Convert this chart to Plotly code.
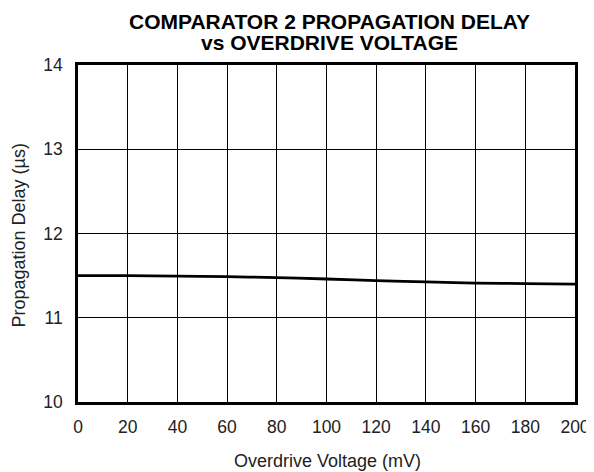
import plotly.graph_objects as go

overdrive_mv = [0, 20, 40, 60, 80, 100, 120, 140, 160, 180, 200]
delay_us = [11.50, 11.50, 11.495, 11.488, 11.476, 11.46, 11.44, 11.425, 11.412, 11.405, 11.40]
x_ticks = [0, 20, 40, 60, 80, 100, 120, 140, 160, 180, 200]
y_ticks = [10, 11, 12, 13, 14]
title_lines = ["COMPARATOR 2 PROPAGATION DELAY", "vs OVERDRIVE VOLTAGE"]
x_title = "Overdrive Voltage (mV)"
y_title = "Propagation Delay (µs)"

FONT = "Liberation Sans, Arial, sans-serif"

fig = go.Figure()
fig.add_trace(go.Scatter(
    x=overdrive_mv, y=delay_us, mode="lines",
    line=dict(color="black", width=2.8, shape="spline"),
    showlegend=False, hoverinfo="skip",
))

# page body has an 8px default margin, so the figure is sized to fit the window
fig.update_layout(
    width=586, height=464,
    margin=dict(l=70, r=19, t=57, b=70),
    paper_bgcolor="white", plot_bgcolor="white",
    font=dict(family=FONT, color="black", size=17.5),
)
fig.update_xaxes(
    range=[0, 200], tickvals=x_ticks, ticktext=[str(v) for v in x_ticks],
    showgrid=True, gridcolor="black", gridwidth=1,
    showline=True, linecolor="black", linewidth=2.6, mirror=True,
    ticks="", ticklabelstandoff=7, zeroline=False, automargin=False,
    tickfont=dict(size=17.5, color="#222"),
)
fig.update_yaxes(
    range=[10, 14], tickvals=y_ticks,
    showgrid=True, gridcolor="black", gridwidth=1,
    showline=True, linecolor="black", linewidth=2.6, mirror=True,
    ticks="", ticklabelstandoff=9, zeroline=False, automargin=False,
    tickfont=dict(size=17.5, color="#222"),
)

ann = [
    dict(text="<b>%s</b>" % title_lines[0], x=0.5, y=1, xshift=3, yshift=44,
         font=dict(size=21, color="black")),
    dict(text="<b>%s</b>" % title_lines[1], x=0.5, y=1, xshift=3, yshift=23,
         font=dict(size=21, color="black")),
    dict(text=x_title, x=0.5, y=0, xshift=1, yshift=-59,
         font=dict(size=18, color="#222")),
    dict(text=y_title, x=0, y=0.5, xshift=-60, yshift=-2, textangle=-90,
         font=dict(size=18, color="#222")),
]
for a in ann:
    fig.add_annotation(xref="paper", yref="paper", showarrow=False,
                       xanchor="center", yanchor="middle", **a)

fig.write_html("out.html")
